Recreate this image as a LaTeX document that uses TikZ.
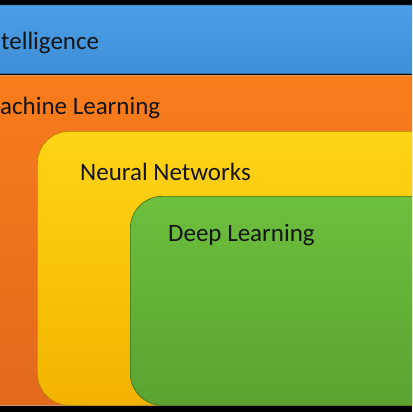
\documentclass[tikz,border=0pt]{standalone}
\usepackage{fontspec}
\setmainfont{Carlito}
\usepackage{xcolor}
\usetikzlibrary{positioning}
\definecolor{aiBlue}{HTML}{4B9EE7}
\definecolor{aiBlueDk}{HTML}{3F8FD8}
\definecolor{mlOrange}{HTML}{F97C1B}
\definecolor{mlOrangeDk}{HTML}{E2691D}
\definecolor{nnYellow}{HTML}{FFD416}
\definecolor{nnYellowDk}{HTML}{F2B300}
\definecolor{dlGreen}{HTML}{6DBF3D}
\definecolor{dlGreenDk}{HTML}{5AA331}

\begin{document}
\begin{tikzpicture}[x=1pt,y=-1pt,
  bx/.style={draw=black!40, line width=0.7pt, rounded corners=32pt, anchor=north west, inner sep=0pt},
  lbl/.style={anchor=west, inner sep=0pt, text=black!92, font=\fontsize{25}{30}\selectfont}]
\useasboundingbox (0,0) rectangle (412,412);
\fill[black] (0,0) rectangle (412,412);
% nested boxes DL subset NN subset ML subset AI
\begin{scope}
\clip (0,0) rectangle (412,405);
\node[bx, top color=aiBlue, bottom color=aiBlueDk, draw=cyan!30!aiBlue, minimum width=540pt, minimum height=68pt] (AI) at (-64,5) {};
\node[bx, top color=mlOrange, bottom color=mlOrangeDk, draw=orange!40!white, minimum width=540pt, minimum height=330pt] (ML) at (-64,75) {};
\node[bx, top color=nnYellow, bottom color=nnYellowDk, draw=nnYellowDk!75!black, minimum width=420pt, minimum height=274pt] (NN) at (37,131) {};
\node[bx, top color=dlGreen, bottom color=dlGreenDk, draw=dlGreenDk!70!black, minimum width=330pt, minimum height=209pt] (DL) at (130,196) {};
\end{scope}
\node[lbl] (aiTxt) at (1,43) {telligence};
\node[lbl] (mlTxt) at (0,108) {achine Learning};
\node[lbl] (nnTxt) at (80,172) {Neural Networks};
\node[lbl] (dlTxt) at (168,235) {Deep Learning};
\end{tikzpicture}
\end{document}
